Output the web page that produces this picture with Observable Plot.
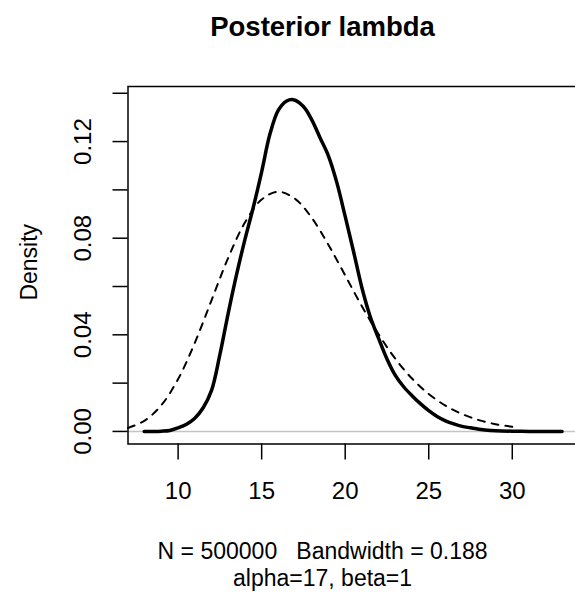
<!DOCTYPE html>
<html>
<head>
<meta charset="utf-8">
<script src="https://cdn.jsdelivr.net/npm/d3@7"></script>
<script src="https://cdn.jsdelivr.net/npm/@observablehq/plot@0.6"></script>
<style>
  html, body { margin: 0; padding: 0; background: #fff; }
  #chart { width: 575px; height: 597px; overflow: hidden; }
</style>
</head>
<body>
<div id="chart"></div>
<script>
// ---- text ----
const titleText = "Posterior lambda";
const xLabelText = "N = 500000   Bandwidth = 0.188";
const subText = "alpha=17, beta=1";
const yLabelText = "Density";

// ---- ticks ----
const xTicks = [10, 15, 20, 25, 30];
const yTicks = [0, 0.02, 0.04, 0.06, 0.08, 0.10, 0.12, 0.14];
const yTickLabels = [0, 0.04, 0.08, 0.12];

// ---- posterior density (solid) ----
const postX = [7.97, 8.5, 9, 9.5, 10, 10.5, 11, 11.5, 12, 12.5, 13, 13.5, 14, 14.5, 15, 15.5, 16, 16.5, 16.9,
  17.5, 18, 18.5, 19, 19.5, 20, 20.5, 21, 21.5, 22, 22.5, 23, 23.5, 24, 24.5, 25, 25.5, 26, 26.5, 27, 27.5,
  28, 28.5, 29, 30, 31, 32, 32.98];
const postY = [0, 0, 0.0001, 0.0004, 0.0015, 0.003, 0.0055, 0.0098, 0.017, 0.0318, 0.049, 0.065, 0.0795, 0.0928,
  0.1075, 0.1232, 0.133, 0.1368, 0.1373, 0.1345, 0.129, 0.1215, 0.114, 0.103, 0.089, 0.0745, 0.0595, 0.0475,
  0.0385, 0.03, 0.0232, 0.0185, 0.0148, 0.0115, 0.0086, 0.0062, 0.0044, 0.0031, 0.0021, 0.0015, 0.0009, 0.0005,
  0.0003, 0.0001, 0, 0, 0];

// ---- prior density (dashed) ----
const priorX = [7, 8, 9, 10, 11, 12, 13, 14, 15, 16, 17, 18, 19, 20, 21, 22, 23, 24, 25, 26, 27, 28, 29, 30];
const priorY = [0.00145, 0.0045, 0.0109, 0.0217, 0.0367, 0.0543, 0.0719, 0.0865, 0.096, 0.0992, 0.0963, 0.0884,
  0.0772, 0.0646, 0.0518, 0.0402, 0.0301, 0.0219, 0.0155, 0.0107, 0.0072, 0.0047, 0.003, 0.0019];

const post = postX.map((x, i) => ({x, y: postY[i]}));
const prior = priorX.map((x, i) => ({x, y: priorY[i]}));

const font = "'Liberation Sans', Arial, Helvetica, sans-serif";

const chart = Plot.plot({
  width: 575,
  height: 597,
  marginLeft: 127.5,
  marginRight: -3.6,
  marginTop: 86,
  marginBottom: 153.5,
  style: {fontFamily: font, fontSize: "24px", color: "#000", background: "#fff", overflow: "hidden"},
  x: {domain: [7, 34], axis: null},
  y: {domain: [-0.0052, 0.1428], axis: null},
  marks: [
    Plot.ruleY([0], {stroke: "#c4c4c4", strokeWidth: 1.5}),
    Plot.line(prior, {x: "x", y: "y", stroke: "#000", strokeWidth: 2, strokeDasharray: "7,7", curve: "catmull-rom"}),
    Plot.line(post, {x: "x", y: "y", stroke: "#000", strokeWidth: 3.5, curve: "catmull-rom"}),
    Plot.frame({stroke: "#000", strokeWidth: 1.5}),
    Plot.axisX({ticks: xTicks, tickSize: 16, strokeWidth: 1.5, tickFormat: () => "", label: null}),
    Plot.axisY({ticks: yTicks, tickSize: 15, strokeWidth: 1.5, tickFormat: () => "", label: null}),
    Plot.text(xTicks, {x: d => d, frameAnchor: "bottom", lineAnchor: "bottom", textAnchor: "middle", dy: 54.5,
      text: d => String(d), fontSize: 24, fill: "#000"}),
    Plot.text(yTickLabels, {y: d => d, frameAnchor: "left", textAnchor: "middle", dx: -45, rotate: -90,
      text: d => d.toFixed(2), fontSize: 24, fill: "#000"}),
    Plot.text([yLabelText], {frameAnchor: "left", textAnchor: "middle", dx: -98, dy: -3, rotate: -90,
      text: d => d, fontSize: 23, fill: "#000"}),
    Plot.text([titleText], {frameAnchor: "top", lineAnchor: "bottom", textAnchor: "middle", dx: -31, dy: -51,
      text: d => d, fontSize: 27.5, fontWeight: "bold", fill: "#000"}),
    Plot.text([xLabelText], {frameAnchor: "bottom", lineAnchor: "bottom", textAnchor: "middle", dx: -31, dy: 114.5,
      text: d => d, fontSize: 23, fill: "#000"}),
    Plot.text([subText], {frameAnchor: "bottom", lineAnchor: "bottom", textAnchor: "middle", dx: -31, dy: 142,
      text: d => d, fontSize: 23, fill: "#000"})
  ]
});
document.getElementById("chart").appendChild(chart);
</script>
</body>
</html>
